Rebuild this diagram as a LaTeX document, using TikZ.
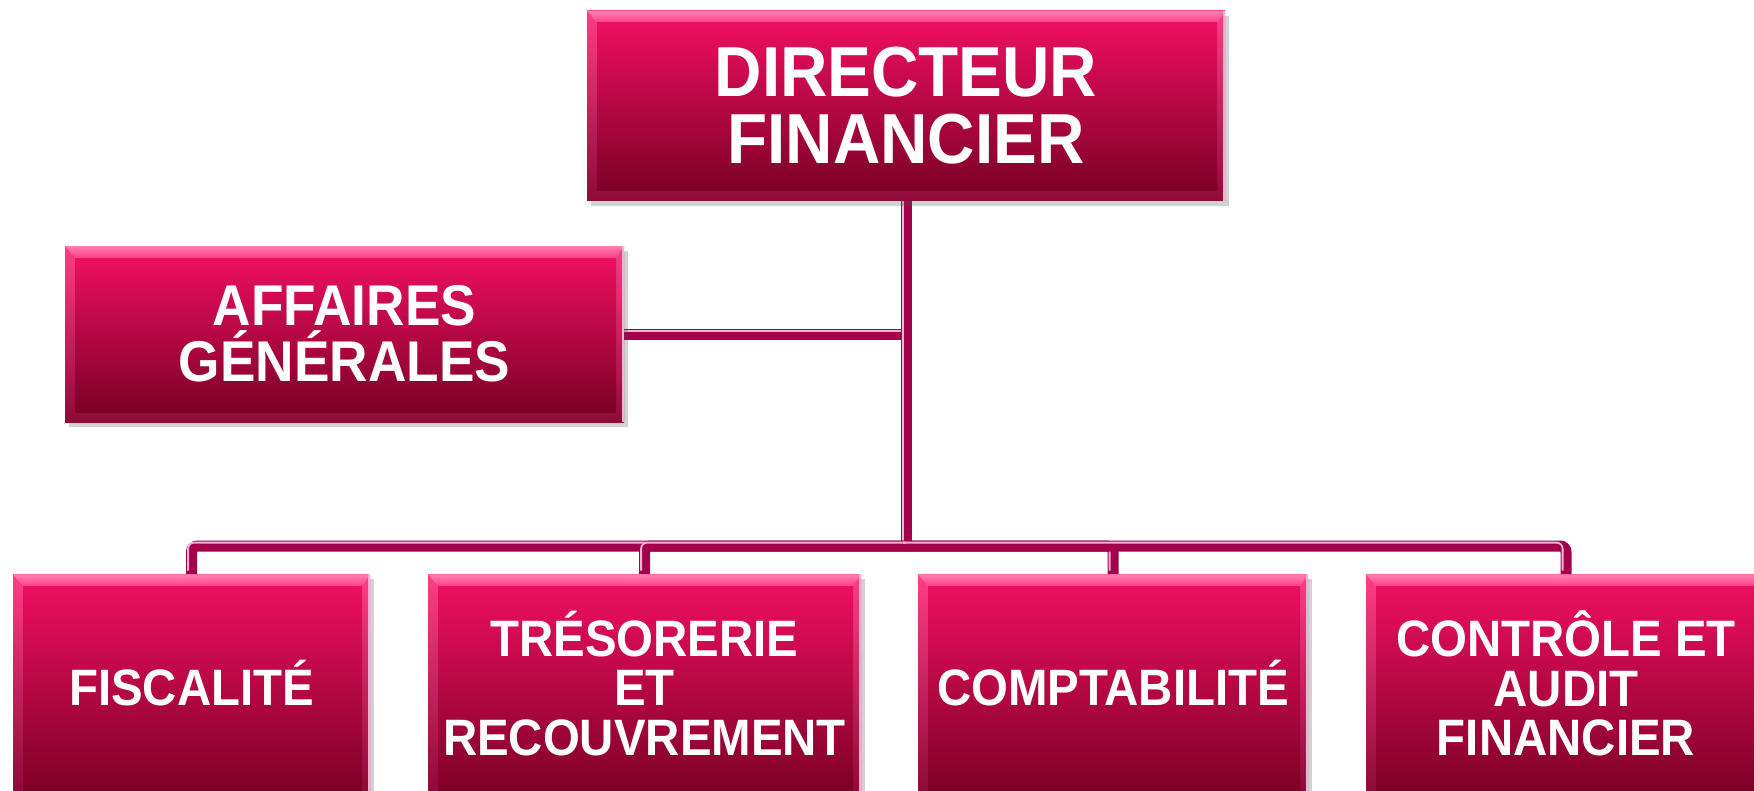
\documentclass[tikz,border=0pt]{standalone}
\usepackage{fontspec}
\usepackage{graphicx}
\setmainfont{Liberation Sans}
\usetikzlibrary{shadows,backgrounds}
\definecolor{conn}{HTML}{A3004C}
\definecolor{connhi}{HTML}{F4B3CF}
\definecolor{intop}{HTML}{EC0F5E}
\definecolor{inmid}{HTML}{C70042}
\definecolor{inbot}{HTML}{7C0027}
\definecolor{bevtop}{HTML}{FF3D84}
\definecolor{bevbot}{HTML}{8E0A38}
\definecolor{bevhi}{HTML}{FF80B2}
\definecolor{bevedge}{HTML}{FFB0D2}
\newcommand\sy[1]{\scalebox{1}[1.08]{#1}}
\tikzset{
  bevb/.store in=\bevb, bevb=5pt,
  orgbox/.style={rectangle, inner sep=0pt, draw=none, fill=inmid, text=white, align=center,
    drop shadow={shadow xshift=2pt, shadow yshift=-2.5pt, opacity=0.25, fill=black!70},
    path picture={
      \path (path picture bounding box.north west) coordinate (@nw)
            (path picture bounding box.south east) coordinate (@se)
            (path picture bounding box.north east) coordinate (@ne);
      \shade[top color=bevtop, bottom color=bevbot] (@nw) rectangle (@se);
      \shade[top color=bevhi, bottom color=bevtop] (@nw) -- (@ne) -- ([shift={(-4pt,-6pt)}]@ne) -- ([shift={(5pt,-6pt)}]@nw) -- cycle;
      \shade[top color=intop, middle color=inmid, bottom color=inbot] ([shift={(5pt,-6pt)}]@nw) rectangle ([shift={(-4pt,\bevb)}]@se);
      \draw[bevedge, line width=1pt] ([xshift=-0.6pt]@ne) -- ([xshift=-0.6pt]@se);
    }},
  lowbox/.style={orgbox, bevb=-1pt, minimum height=109pt},
  conn/.style={draw=conn, line width=5.5pt, rounded corners=3pt,
    postaction={draw=connhi, line width=0.9pt, transform canvas={xshift=-1.7pt, yshift=1.7pt}}},
  topfont/.style={font=\bfseries\fontsize{32.8}{33.5}\selectfont},
  midfont/.style={font=\bfseries\fontsize{26.6}{28}\selectfont},
  lowfont/.style={font=\bfseries\fontsize{23.7}{24.6}\selectfont},
}
\begin{document}
\begin{tikzpicture}[x=0.5pt, y=-0.5pt]
  \clip (0,0) rectangle (1754,791);
  \node[orgbox, topfont, minimum width=319pt, minimum height=95pt] (dir) at (906,106) {\sy{DIRECTEUR}\\\sy{FINANCIER}};
  \node[orgbox, midfont, minimum width=279.5pt, minimum height=88pt] (aff) at (344.5,334) {\sy{AFFAIRES}\\\sy{GÉNÉRALES}};
  \node[lowbox, lowfont, minimum width=178.5pt, anchor=north] (fisc) at (191.5,574) {\sy{FISCALITÉ}};
  \node[lowbox, lowfont, minimum width=216.5pt, anchor=north] (tres) at (644.5,574) {\sy{TRÉSORERIE}\\\sy{ET}\\\sy{RECOUVREMENT}};
  \node[lowbox, lowfont, minimum width=195pt, anchor=north] (compt) at (1113,574) {\sy{COMPTABILITÉ}};
  \node[lowbox, lowfont, minimum width=200pt, anchor=north] (ctrl) at (1566,574) {\sy{CONTRÔLE ET}\\\sy{AUDIT}\\\sy{FINANCIER}};
  \coordinate (j) at (906,546);
  \begin{scope}[on background layer]
    \fill[white] (0,0) rectangle (1754,791);
    \draw[conn] (dir.south |- aff.east) -- (aff.east);
    \draw[conn] (dir.south) -- (j);
    \draw[conn] (j) -| (fisc.north);
    \draw[conn] (j) -| (tres.north);
    \draw[conn] (j) -| (compt.north);
    \draw[conn] (j) -| (ctrl.north);
  \end{scope}
\end{tikzpicture}
\end{document}
